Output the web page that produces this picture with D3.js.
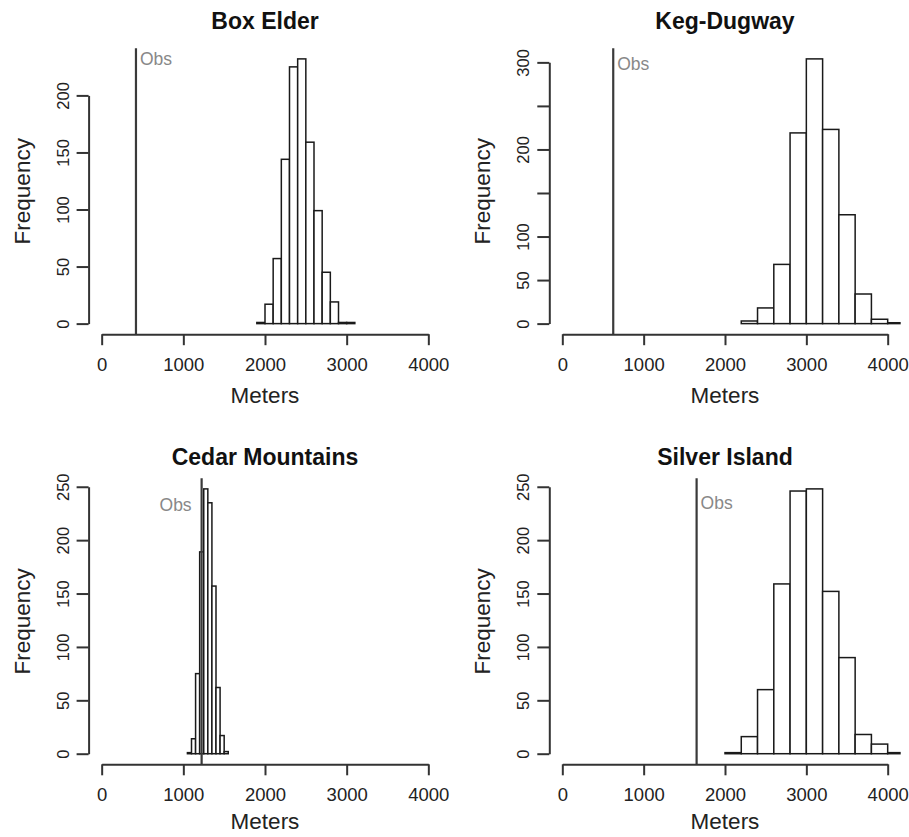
<!DOCTYPE html>
<html>
<head>
<meta charset="utf-8">
<script src="https://cdn.jsdelivr.net/npm/d3@7"></script>
<style>
  html, body { margin: 0; padding: 0; background: #fff; }
  svg { display: block; }
  text { font-family: "Liberation Sans", Arial, sans-serif; }
</style>
</head>
<body>
<svg id="chart" width="909" height="837"></svg>
<script>
// ---- data ----
const panelTitles = ["Box Elder", "Keg-Dugway", "Cedar Mountains", "Silver Island"];
const binStarts = [1900, 2200, 1050, 2000];
const binWidths = [100, 200, 50, 200];
const boxElderCounts = [1, 17, 57, 144, 225, 232, 159, 99, 45, 19, 1, 1];
const kegDugwayCounts = [3, 18, 68, 219, 304, 223, 125, 34, 5, 1];
const cedarMountainsCounts = [1, 14, 75, 189, 248, 235, 157, 62, 17, 2];
const silverIslandCounts = [1, 16, 60, 159, 246, 248, 152, 90, 18, 9, 1];
const observed = [420, 626, 1224, 1651];
const obsLabelY = [232, 298, 233, 235];
const obsLabelSide = ["right", "right", "left", "right"];
const xTicks = [0, 1000, 2000, 3000, 4000];
const yTicks = [
  [0, 50, 100, 150, 200],
  [0, 50, 100, 150, 200, 250, 300],
  [0, 50, 100, 150, 200, 250],
  [0, 50, 100, 150, 200, 250]
];
const yTickLabels = [
  ["0", "50", "100", "150", "200"],
  ["0", "50", "100", "", "200", "", "300"],
  ["0", "50", "100", "150", "200", "250"],
  ["0", "50", "100", "150", "200", "250"]
];
const xLabel = "Meters";
const yLabel = "Frequency";
const obsText = "Obs";
const allCounts = [boxElderCounts, kegDugwayCounts, cedarMountainsCounts, silverIslandCounts];

// ---- layout ----
const colX = [[88.6, 441.4], [549.3, 900.7]];
const rowY = [[48.3, 334.2], [478.3, 764.3]];
const titleY = [29, 465];
const xLabY = [403, 829];

const svg = d3.select("#chart");
const defs = svg.append("defs");

panelTitles.forEach((title, i) => {
  const col = i % 2, row = Math.floor(i / 2);
  const [x0, x1] = colX[col];
  const [yB, yT] = [rowY[row][1], rowY[row][0]];
  const counts = allCounts[i];
  const maxC = d3.max(counts);
  const bins = counts.map((c, k) => ({ x0: binStarts[i] + k * binWidths[i], x1: binStarts[i] + (k + 1) * binWidths[i], c }));

  const x = d3.scaleLinear().domain([-160, 4160]).range([x0, x1]);
  const y = d3.scaleLinear().domain([-0.04 * maxC, 1.04 * maxC]).range([yB, yT]);

  const g = svg.append("g");
  const clipId = "clip" + i;
  defs.append("clipPath").attr("id", clipId).append("rect")
    .attr("x", x0).attr("y", yT).attr("width", x1 - x0).attr("height", yB - yT);

  // bars
  g.append("g").attr("clip-path", `url(#${clipId})`)
    .selectAll("rect").data(bins).join("rect")
    .attr("x", d => x(d.x0))
    .attr("y", d => y(d.c))
    .attr("width", d => x(d.x1) - x(d.x0))
    .attr("height", d => y(0) - y(d.c))
    .attr("fill", "#fff")
    .attr("stroke", "#1a1a1a")
    .attr("stroke-width", 1.5);

  // observed line
  g.append("line")
    .attr("x1", x(observed[i])).attr("x2", x(observed[i]))
    .attr("y1", yT).attr("y2", yB)
    .attr("stroke", "#3a3a3a").attr("stroke-width", 2.2);

  const side = obsLabelSide[i];
  g.append("text")
    .attr("x", x(observed[i]) + (side === "right" ? 4 : -10))
    .attr("y", y(obsLabelY[i]))
    .attr("dy", "0.36em")
    .attr("text-anchor", side === "right" ? "start" : "end")
    .attr("font-size", 17.5)
    .attr("fill", "#888")
    .text(obsText);

  // x axis
  const xa = d3.scaleLinear().domain([0, 4000]).range([x(0), x(4000)]);
  const gx = g.append("g").attr("transform", `translate(0,${yB})`)
    .call(d3.axisBottom(xa).tickValues(xTicks).tickSize(11).tickSizeOuter(0).tickPadding(6).tickFormat(d3.format("d")));
  gx.select(".domain").attr("stroke", "#333").attr("stroke-width", 2);
  gx.selectAll(".tick line").attr("stroke", "#333").attr("stroke-width", 2);
  gx.selectAll(".tick text").attr("font-size", 18.5).attr("fill", "#222")
    .attr("font-family", "'Liberation Sans', Arial, sans-serif")
    .attr("y", 37).attr("dy", null);

  // y axis
  const yt = yTicks[i];
  const topTick = yt[yt.length - 1];
  const ya = d3.scaleLinear().domain([0, topTick]).range([y(0), y(topTick)]);
  const labels = yTickLabels[i];
  const gy = g.append("g").attr("transform", `translate(${x0},0)`)
    .call(d3.axisLeft(ya).tickValues(yt).tickSize(12).tickSizeOuter(0).tickFormat((d, k) => labels[k]));
  gy.select(".domain").attr("stroke", "#333").attr("stroke-width", 2);
  gy.selectAll(".tick line").attr("stroke", "#333").attr("stroke-width", 2);
  gy.selectAll(".tick text").attr("font-size", 16.5).attr("fill", "#222")
    .attr("x", null).attr("y", null).attr("dy", null)
    .attr("text-anchor", "middle")
    .attr("transform", "translate(-20,0) rotate(-90)");

  // titles and axis labels
  g.append("text")
    .attr("x", (x0 + x1) / 2).attr("y", titleY[row])
    .attr("text-anchor", "middle")
    .attr("font-size", 23).attr("font-weight", "bold").attr("fill", "#111")
    .text(title);
  g.append("text")
    .attr("x", (x0 + x1) / 2).attr("y", xLabY[row])
    .attr("text-anchor", "middle")
    .attr("font-size", 22.5).attr("fill", "#222")
    .text(xLabel);
  g.append("text")
    .attr("transform", `translate(${x0 - 59},${(yT + yB) / 2}) rotate(-90)`)
    .attr("text-anchor", "middle")
    .attr("font-size", 22.5).attr("fill", "#222")
    .text(yLabel);
});
</script>
</body>
</html>
